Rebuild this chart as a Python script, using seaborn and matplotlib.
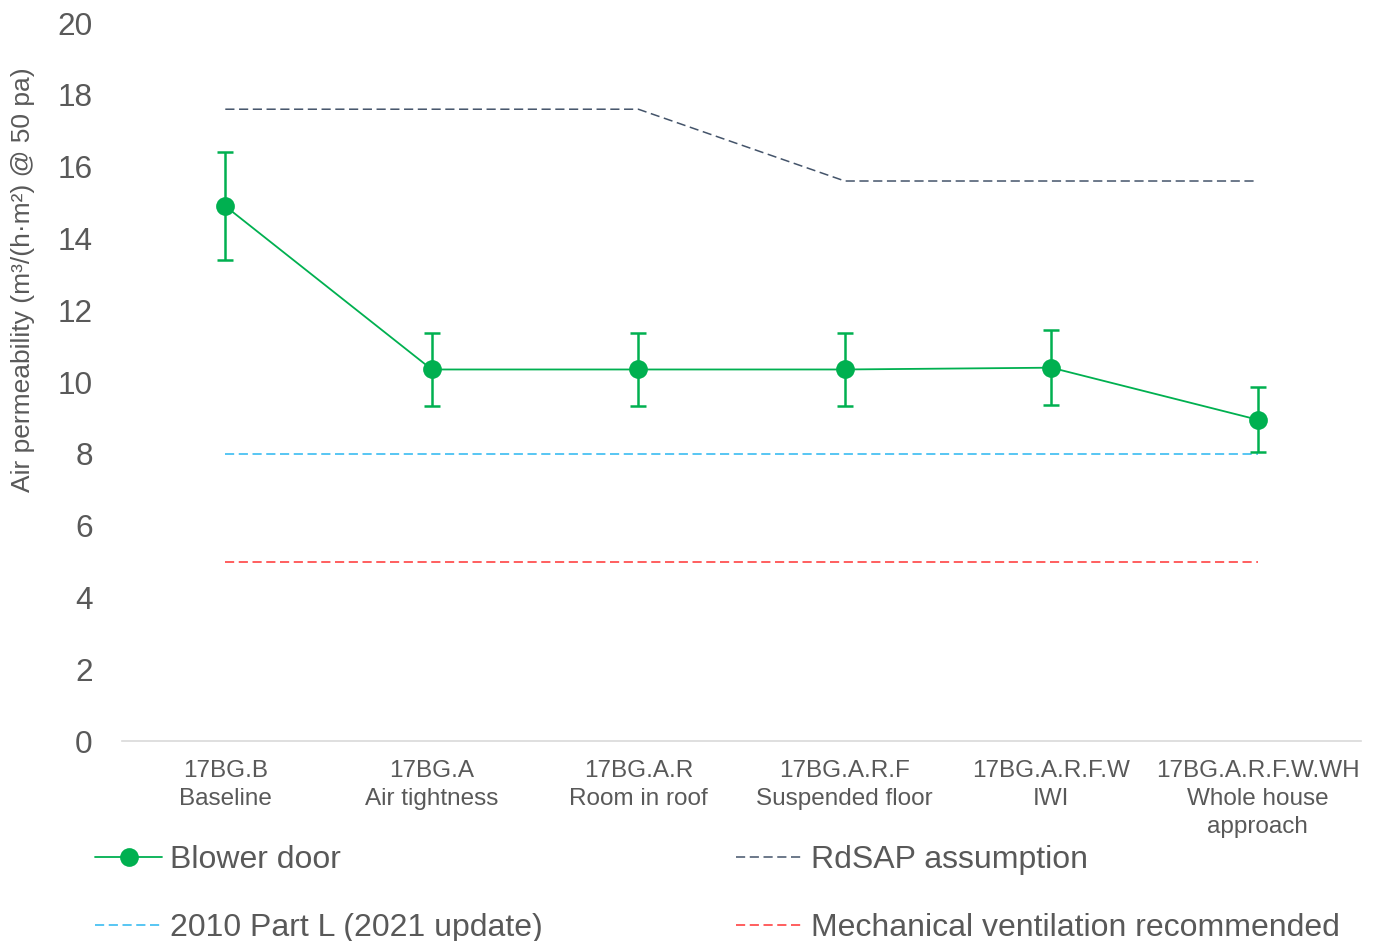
import matplotlib
matplotlib.use("Agg")
import matplotlib.pyplot as plt
import seaborn as sns
import pandas as pd
import numpy as np

# Retrofit stages
stage_codes = ["17BG.B", "17BG.A", "17BG.A.R", "17BG.A.R.F", "17BG.A.R.F.W", "17BG.A.R.F.W.WH"]
stage_names = ["Baseline", "Air tightness", "Room in roof", "Suspended floor", "IWI", "Whole house\napproach"]

# Measured air permeability and uncertainty
blower_door = [14.9, 10.35, 10.35, 10.35, 10.4, 8.95]
blower_err = [1.5, 1.03, 1.03, 1.03, 1.05, 0.9]

# Reference levels
rdsap = [17.6, 17.6, 17.6, 15.6, 15.6, 15.6]
part_l = [8.0, 8.0, 8.0, 8.0, 8.0, 8.0]
mech_vent = [5.0, 5.0, 5.0, 5.0, 5.0, 5.0]

yticks = [0, 2, 4, 6, 8, 10, 12, 14, 16, 18, 20]

GREEN = "#00b050"
TEXT = "#595959"

sns.set_theme(style="white")
plt.rcParams["font.family"] = ["Liberation Sans", "DejaVu Sans"]

fig = plt.figure(figsize=(13.79, 9.41), dpi=100)
ax = fig.add_axes([0.0885, 0.2125, 0.8985, 0.763])

x = np.arange(len(stage_codes))
df = pd.DataFrame({
    "x": x,
    "Blower door": blower_door,
    "RdSAP assumption": rdsap,
    "2010 Part L (2021 update)": part_l,
    "Mechanical ventilation recommended": mech_vent,
})

dash = (6, 3)
sns.lineplot(data=df, x="x", y="RdSAP assumption", ax=ax, color="#44546a",
             lw=1.1, label="RdSAP assumption").lines[-1].set_dashes(dash)
sns.lineplot(data=df, x="x", y="2010 Part L (2021 update)", ax=ax, color="#29b6f0",
             lw=1.1, label="2010 Part L (2021 update)").lines[-1].set_dashes(dash)
sns.lineplot(data=df, x="x", y="Mechanical ventilation recommended", ax=ax, color="#ff3333",
             lw=1.1, label="Mechanical ventilation recommended").lines[-1].set_dashes(dash)

ax.errorbar(x, blower_door, yerr=blower_err, fmt="none", ecolor=GREEN,
            elinewidth=1.8, capsize=6, capthick=1.8, zorder=4)
sns.lineplot(data=df, x="x", y="Blower door", ax=ax, color=GREEN, lw=1.3,
             marker="o", markersize=13.5, markeredgewidth=0, label="Blower door", zorder=5)

ax.set_xlim(-0.5, 5.5)
ax.set_ylim(0, 20)
ax.set_yticks(yticks)
ax.set_yticklabels([str(v) for v in yticks], fontsize=22.7, color=TEXT)
ax.set_xticks(x)
ax.set_xticklabels([f"{c}\n{n}" for c, n in zip(stage_codes, stage_names)],
                   fontsize=17.5, color=TEXT, linespacing=1.33)
ax.tick_params(axis="x", length=0, pad=14)
ax.tick_params(axis="y", length=0, pad=21)
ax.set_xlabel("")
ax.set_ylabel("Air permeability (m³/(h·m²) @ 50 pa)", fontsize=19, color=TEXT)
ax.yaxis.set_label_coords(-0.0702, 0.642)

for s in ["top", "right", "left"]:
    ax.spines[s].set_visible(False)
ax.spines["bottom"].set_color("#d9d9d9")
ax.spines["bottom"].set_linewidth(1.2)

handles, labels = ax.get_legend_handles_labels()
order = ["Blower door", "2010 Part L (2021 update)", "RdSAP assumption",
         "Mechanical ventilation recommended"]
hmap = dict(zip(labels, handles))
ax.legend([hmap[k] for k in order], order, ncol=2, loc="upper left",
          bbox_to_anchor=(0.069, 0.102), bbox_transform=fig.transFigure,
          frameon=False, fontsize=23.0, labelcolor=TEXT, handlelength=2.1,
          handletextpad=0.25, columnspacing=6.05, labelspacing=1.2,
          borderaxespad=0, borderpad=0)

fig.savefig("out.png", dpi=100)
